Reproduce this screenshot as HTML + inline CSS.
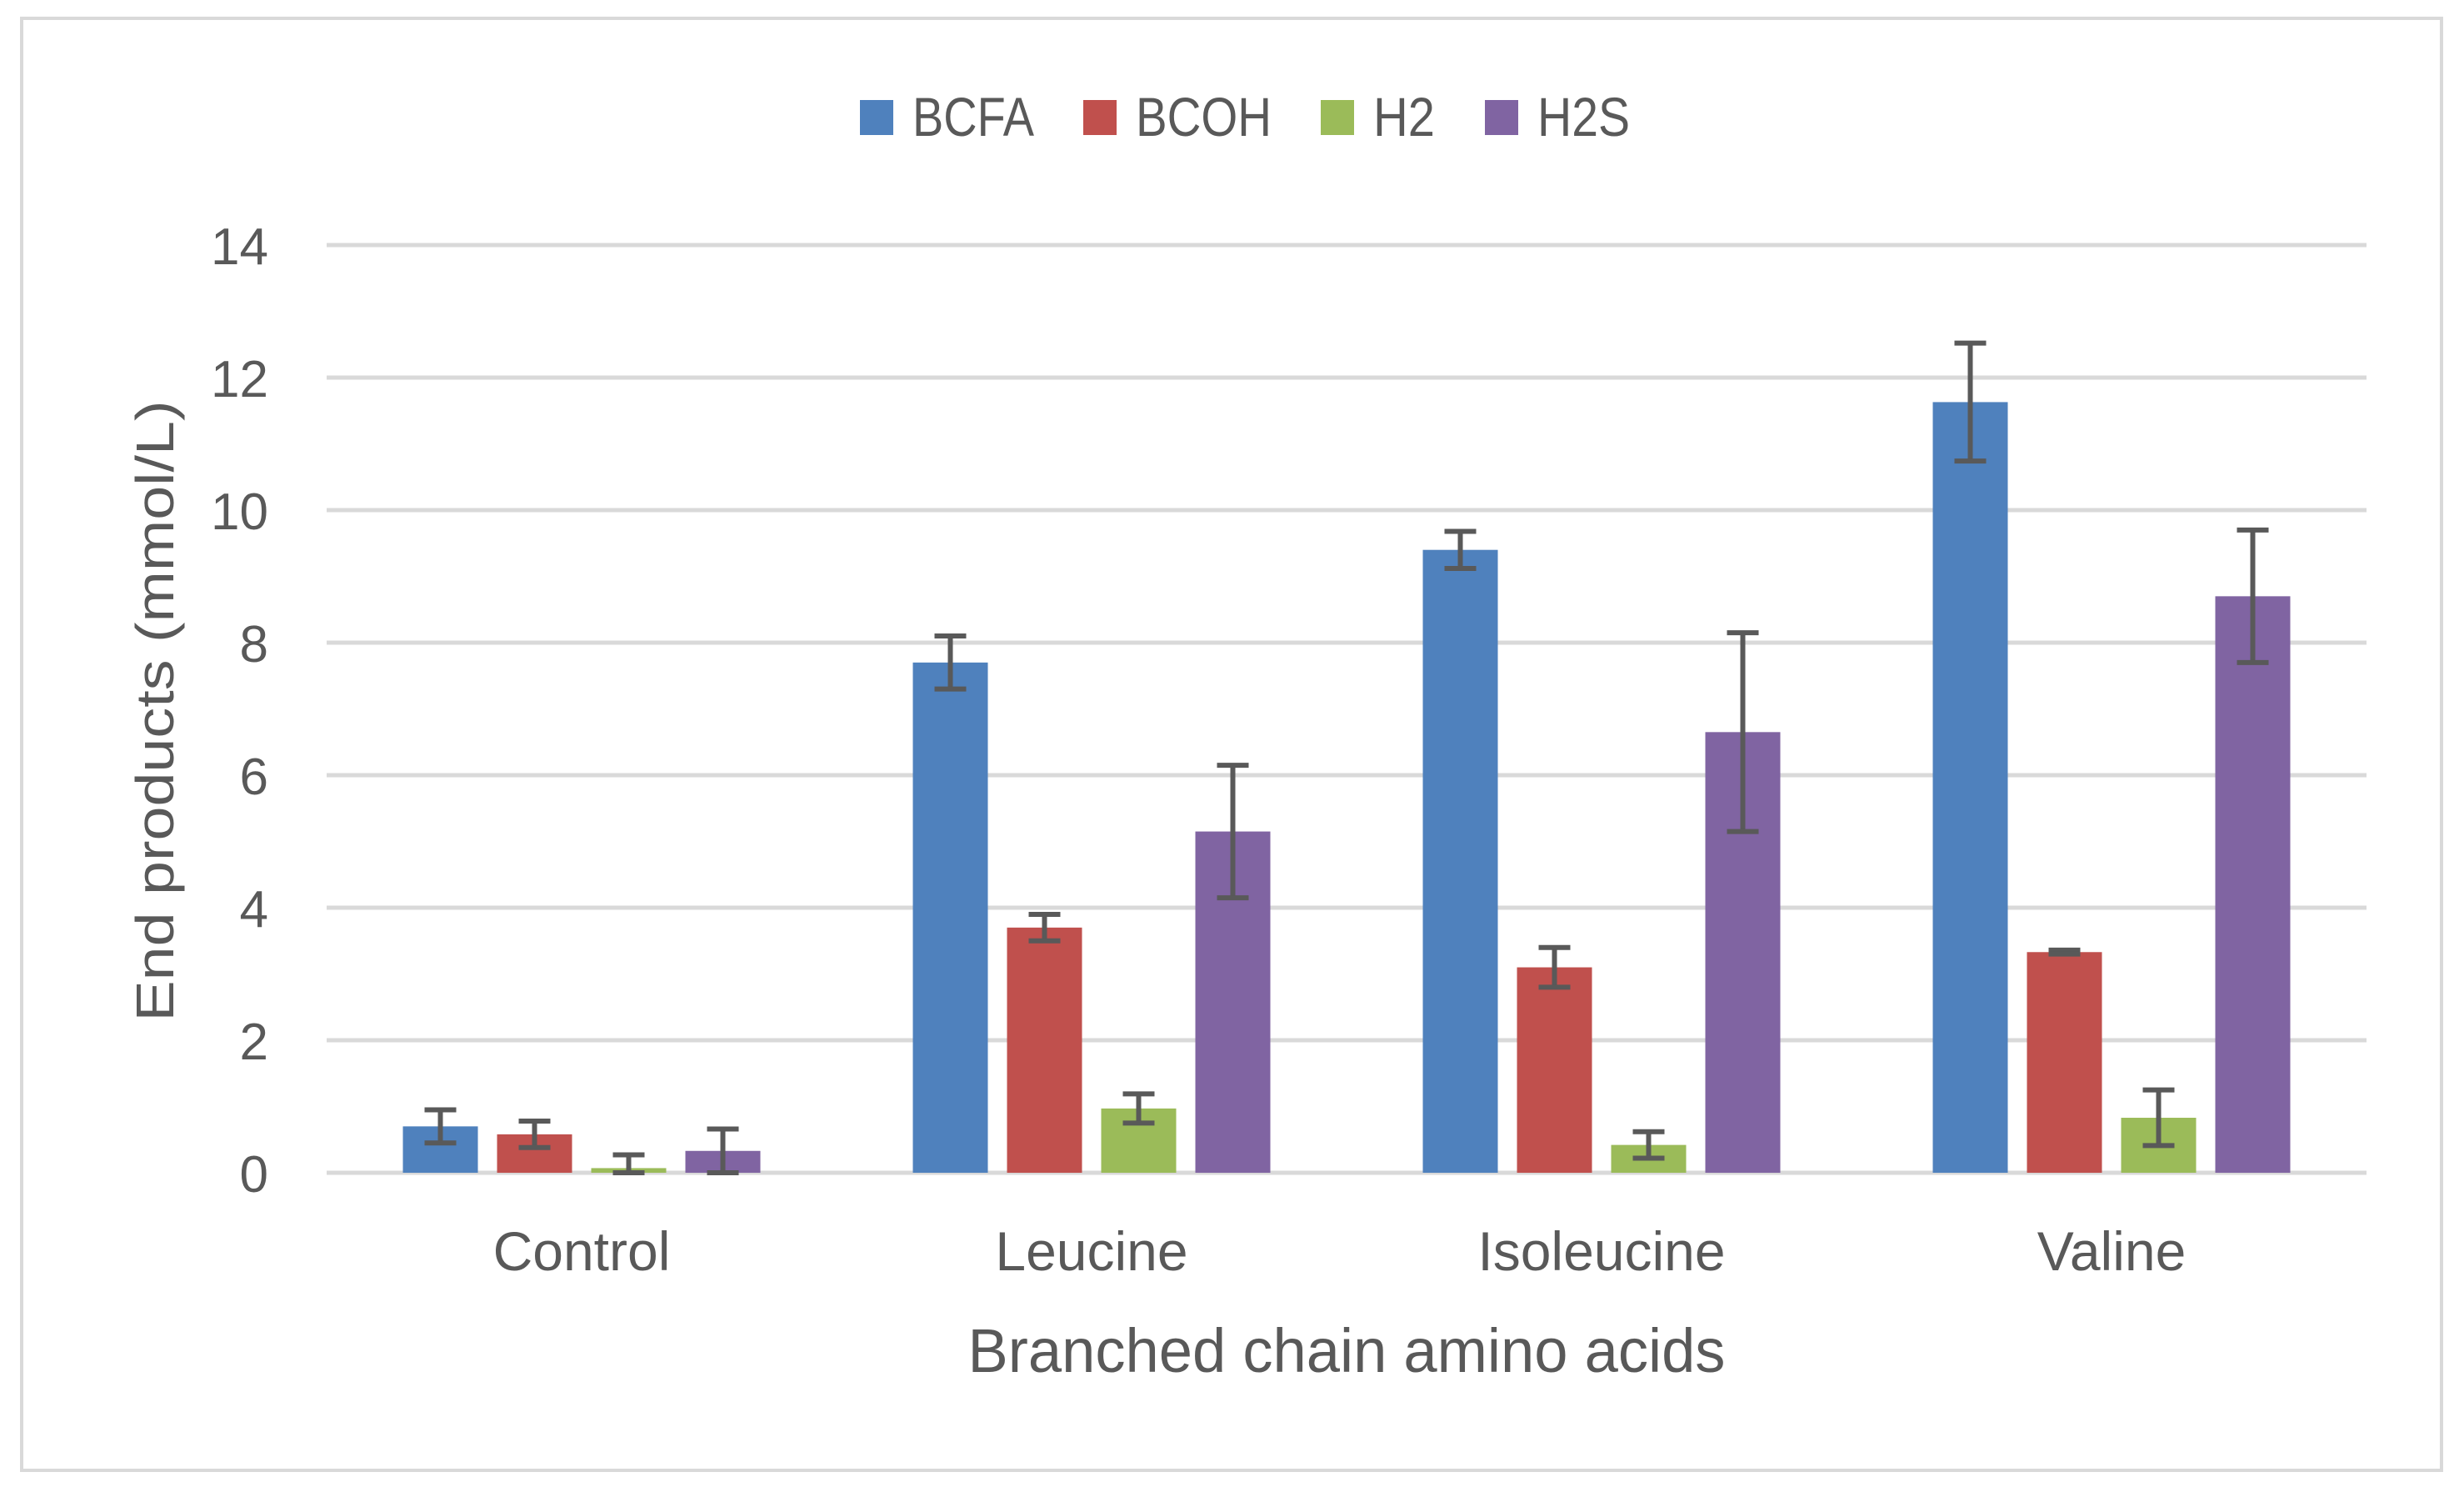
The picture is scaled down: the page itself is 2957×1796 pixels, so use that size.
<!DOCTYPE html>
<html><head><meta charset="utf-8"><style>
html,body{margin:0;padding:0;background:#fff;}
svg{display:block;}
text{font-family:"Liberation Sans",sans-serif;fill:#595959;}
</style></head><body>
<svg id="chart" width="2957" height="1796" viewBox="0 0 2957 1796">
<rect x="26" y="22" width="2904" height="1742" fill="#fff" stroke="#d9d9d9" stroke-width="4"/>
<g id="grid"></g>
<g id="yticks"></g>
<g id="bars"></g>
<g id="errs"></g>
<g id="xlabels"></g>
<text x="1616" y="1646" font-size="74" text-anchor="middle" textLength="909" lengthAdjust="spacingAndGlyphs">Branched chain amino acids</text>
<text transform="translate(208,853) rotate(-90)" font-size="64" text-anchor="middle" textLength="745" lengthAdjust="spacingAndGlyphs">End products (mmol/L)</text>
<g id="legend"></g>
</svg>
<script>
const categories = ["Control", "Leucine", "Isoleucine", "Valine"];
const seriesNames = ["BCFA", "BCOH", "H2", "H2S"];
const seriesColors = ["#4f81bd", "#c0504d", "#9bbb59", "#8064a2"];
const bcfa = [0.7, 7.7, 9.4, 11.63];
const bcoh = [0.58, 3.7, 3.1, 3.33];
const h2 = [0.07, 0.97, 0.42, 0.83];
const h2s = [0.33, 5.15, 6.65, 8.7];
const bcfaErr = [0.25, 0.4, 0.28, 0.89];
const bcohErr = [0.2, 0.2, 0.3, 0.03];
const h2Err = [0.2, 0.22, 0.2, 0.42];
const h2sErr = [0.33, 1.0, 1.5, 1.0];
const yTicks = [0, 2, 4, 6, 8, 10, 12, 14];
const series = [bcfa, bcoh, h2, h2s];
const errors = [bcfaErr, bcohErr, h2Err, h2sErr];
const legendTextW = [146, 163, 74, 111];

const NS = "http://www.w3.org/2000/svg";
const plotL = 392, plotR = 2840, y0 = 1407, unit = 79.5;
const catW = (plotR - plotL) / categories.length;
const barW = 90, gap = 23;
function yScale(v){ return y0 - v * unit; }
function xCenter(i){ return plotL + catW * (i + 0.5); }
function mk(tag, attrs, parent){ const e = document.createElementNS(NS, tag); for (const k in attrs) e.setAttribute(k, attrs[k]); parent.appendChild(e); return e; }

const grid = document.getElementById("grid");
const yt = document.getElementById("yticks");
yTicks.forEach(t => {
  const l = mk("line", {x1: plotL, x2: plotR, y1: yScale(t), y2: yScale(t), stroke: "#d9d9d9", "stroke-width": 5}, grid);
  
  
  const tx = mk("text", {x: 322, y: yScale(t) + 23, "font-size": 62, "text-anchor": "end"}, yt);
  tx.textContent = String(t);
  
  
});

const bars = document.getElementById("bars");
const errs = document.getElementById("errs");
const xl = document.getElementById("xlabels");
categories.forEach((c, i) => {
  const start = xCenter(i) - (4 * barW + 3 * gap) / 2;
  series.forEach((s, j) => {
    const x = start + j * (barW + gap);
    const v = s[i];
    const r = mk("rect", {x: x, y: yScale(v), width: barW, height: y0 - yScale(v), fill: seriesColors[j]}, bars);
    
    
    const e = errors[j][i];
    const cx = x + barW / 2;
    const g = mk("g", {stroke: "#595959", "stroke-width": 6}, errs);
    
    
    mk("line", {x1: cx, x2: cx, y1: yScale(v + e), y2: yScale(Math.max(0, v - e))}, g);
    mk("line", {x1: cx - 19, x2: cx + 19, y1: yScale(v + e), y2: yScale(v + e)}, g);
    mk("line", {x1: cx - 19, x2: cx + 19, y1: yScale(Math.max(0, v - e)), y2: yScale(Math.max(0, v - e))}, g);
  });
  const t = mk("text", {x: xCenter(i), y: 1524, "font-size": 66, "text-anchor": "middle"}, xl);
  t.textContent = c;
  
  
});

const lg = document.getElementById("legend");
const legX = [1032, 1300, 1585, 1782];
seriesNames.forEach((n, j) => {
  const g = mk("g", {}, lg);
  
  
  mk("rect", {x: legX[j], y: 120, width: 40, height: 42, fill: seriesColors[j]}, g);
  const t = mk("text", {x: legX[j] + 63, y: 163, "font-size": 66, textLength: legendTextW[j], lengthAdjust: "spacingAndGlyphs"}, g);
  t.textContent = n;
});
</script>
</body></html>
